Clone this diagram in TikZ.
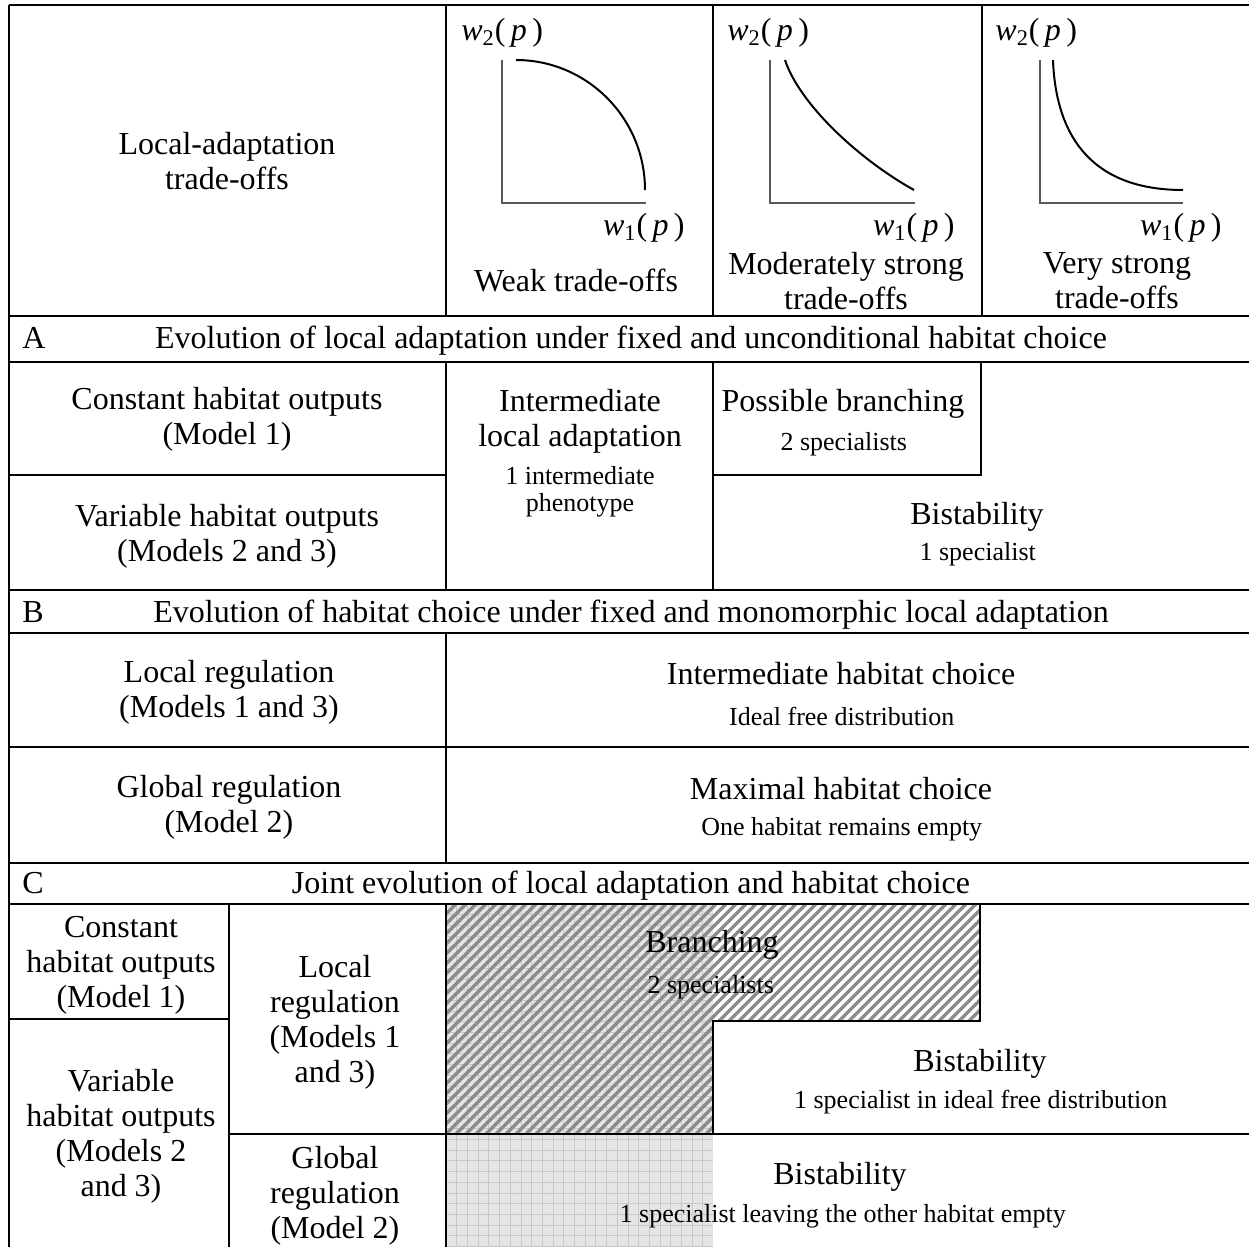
\documentclass[tikz,border=0pt]{standalone}
\usepackage{fontspec}
\setmainfont{Liberation Serif}
\usepackage{tikz}
\usepackage{xcolor}
\definecolor{hatchgray}{rgb}{0.55, 0.55, 0.55}
\definecolor{gridback}{rgb}{0.9, 0.9, 0.9}
\definecolor{gridline}{rgb}{0.78, 0.78, 0.78}
\definecolor{axisgray}{rgb}{0.35, 0.35, 0.35}
\newcommand{\wfit}[1]{\textit{w}\textsubscript{#1}(\,\textit{p}\,)}

\begin{document}
\begin{tikzpicture}[x=0.5pt, y=-0.5pt,
        big/.style={anchor=center, align=center, inner sep=1pt, font=\fontsize{16}{17.5}\selectfont},
        small/.style={anchor=center, align=center, inner sep=1pt, font=\fontsize{13}{13.5}\selectfont},
        rule/.style={line width=1pt},
        hatchline/.style={hatchgray, line width=1.7pt},
        gridrule/.style={gridline, line width=0.4pt}]
    \useasboundingbox (0, 0) rectangle (1249, 1247);

    % shaded cells of part C
    \fill[gridback] (446, 904) rectangle (713, 1247);
    \foreach \gx in {1, ..., 24}
        \draw[gridrule] (446 + 10.7*\gx, 904) -- (446 + 10.7*\gx, 1247);
    \foreach \gy in {1, ..., 32}
        \draw[gridrule] (446, 904 + 10.7*\gy) -- (713, 904 + 10.7*\gy);
    \begin{scope}
        \clip (446, 904) -- (980, 904) -- (980, 1021) -- (713, 1021) -- (713, 1134) -- (446, 1134) -- cycle;
        \foreach \c in {1350, 1360, ..., 2120}
            \draw[hatchline] (\c - 904, 904) -- (\c - 1134, 1134);
    \end{scope}

    % table rules
    \foreach \y in {5, 316, 362, 590, 633, 747, 863, 904}
        \draw[rule] (9, \y) -- (1249, \y);
    \draw[rule] (9, 5) -- (9, 1247);
    \draw[rule] (446, 5) -- (446, 316);
    \draw[rule] (713, 5) -- (713, 316);
    \draw[rule] (982, 5) -- (982, 316);
    \draw[rule] (446, 362) -- (446, 590);
    \draw[rule] (713, 362) -- (713, 590);
    \draw[rule] (9, 475) -- (446, 475);
    \draw[rule] (713, 475) -- (981, 475) -- (981, 362);
    \draw[rule] (446, 633) -- (446, 863);
    \draw[rule] (446, 904) -- (446, 1247);
    \draw[rule] (229, 904) -- (229, 1247);
    \draw[rule] (9, 1019) -- (229, 1019);
    \draw[rule] (229, 1134) -- (1249, 1134);
    \draw[rule] (980, 904) -- (980, 1021) -- (713, 1021) -- (713, 1134);

    % trade-off curves
    \draw[axisgray, line width=0.7pt] (502, 60) -- (502, 203) -- (646, 203);
    \draw[line width=1pt] (516, 60) .. controls (587, 60) and (645, 118) .. (645, 190);
    \draw[axisgray, line width=0.7pt] (770, 60) -- (770, 203) -- (915, 203);
    \draw[line width=1pt] (785, 60) .. controls (800, 105) and (860, 160) .. (914, 190);
    \draw[axisgray, line width=0.7pt] (1040, 60) -- (1040, 203) -- (1183, 203);
    \draw[line width=1pt] (1053, 60) .. controls (1056, 140) and (1095, 190) .. (1183, 190);

    \node [big] (hdr) at (227, 161) { Local-adaptation\\trade-offs };
    \node [big, anchor=west] (wTwoA) at (459, 33) { \wfit{2} };
    \node [big, anchor=west] (wTwoB) at (725, 33) { \wfit{2} };
    \node [big, anchor=west] (wTwoC) at (993, 33) { \wfit{2} };
    \node [big, anchor=east] (wOneA) at (695, 228) { \wfit{1} };
    \node [big, anchor=east] (wOneB) at (965, 228) { \wfit{1} };
    \node [big, anchor=east] (wOneC) at (1232, 228) { \wfit{1} };
    \node [big] (weak) at (580, 280) { Weak trade-offs };
    \node [big] (moderate) at (846, 281) { Moderately strong\\trade-offs };
    \node [big] (strong) at (1117, 281) { Very strong\\trade-offs };

    % part A
    \node [big, anchor=base west] (aLetter) at (20, 348) { A };
    \node [big, anchor=base] (aTitle) at (635, 348) { Evolution of local adaptation under fixed and unconditional habitat choice };
    \node [big] (aConst) at (227, 419) { Constant habitat outputs\\(Model 1) };
    \node [big] (aVar) at (227, 536) { Variable habitat outputs\\(Models 2 and 3) };
    \node [big] (aInter) at (580, 421) { Intermediate\\local adaptation };
    \node [small] (aInterSub) at (580, 492) { 1 intermediate\\phenotype };
    \node [big] (aBranch) at (847, 404) { Possible branching };
    \node [small] (aBranchSub) at (847, 444) { 2 specialists };
    \node [big] (aBist) at (981, 517) { Bistability };
    \node [small] (aBistSub) at (981, 554) { 1 specialist };

    % part B
    \node [big, anchor=base west] (bLetter) at (20, 622) { B };
    \node [big, anchor=base] (bTitle) at (635, 622) { Evolution of habitat choice under fixed and monomorphic local adaptation };
    \node [big] (bLocal) at (229, 692) { Local regulation\\(Models 1 and 3) };
    \node [big] (bGlobal) at (229, 807) { Global regulation\\(Model 2) };
    \node [big] (bInter) at (845, 674) { Intermediate habitat choice };
    \node [small] (bInterSub) at (845, 716) { Ideal free distribution };
    \node [big] (bMax) at (845, 789) { Maximal habitat choice };
    \node [small] (bMaxSub) at (845, 829) { One habitat remains empty };

    % part C
    \node [big, anchor=base west] (cLetter) at (20, 893) { C };
    \node [big, anchor=base] (cTitle) at (635, 893) { Joint evolution of local adaptation and habitat choice };
    \node [big] (cConst) at (121, 965) { Constant\\habitat outputs\\(Model 1) };
    \node [big] (cVar) at (121, 1136) { Variable\\habitat outputs\\(Models 2\\and 3) };
    \node [big] (cLocal) at (335, 1022) { Local\\regulation\\(Models 1\\and 3) };
    \node [big] (cGlobal) at (335, 1196) { Global\\regulation\\(Model 2) };
    \node [big] (cBranch) at (716, 945) { Branching };
    \node [small] (cBranchSub) at (714, 987) { 2 specialists };
    \node [big] (cBistA) at (984, 1064) { Bistability };
    \node [small] (cBistASub) at (984, 1102) { 1 specialist in ideal free distribution };
    \node [big] (cBistB) at (844, 1177) { Bistability };
    \node [small] (cBistBSub) at (846, 1216) { 1 specialist leaving the other habitat empty };
\end{tikzpicture}
\end{document}
